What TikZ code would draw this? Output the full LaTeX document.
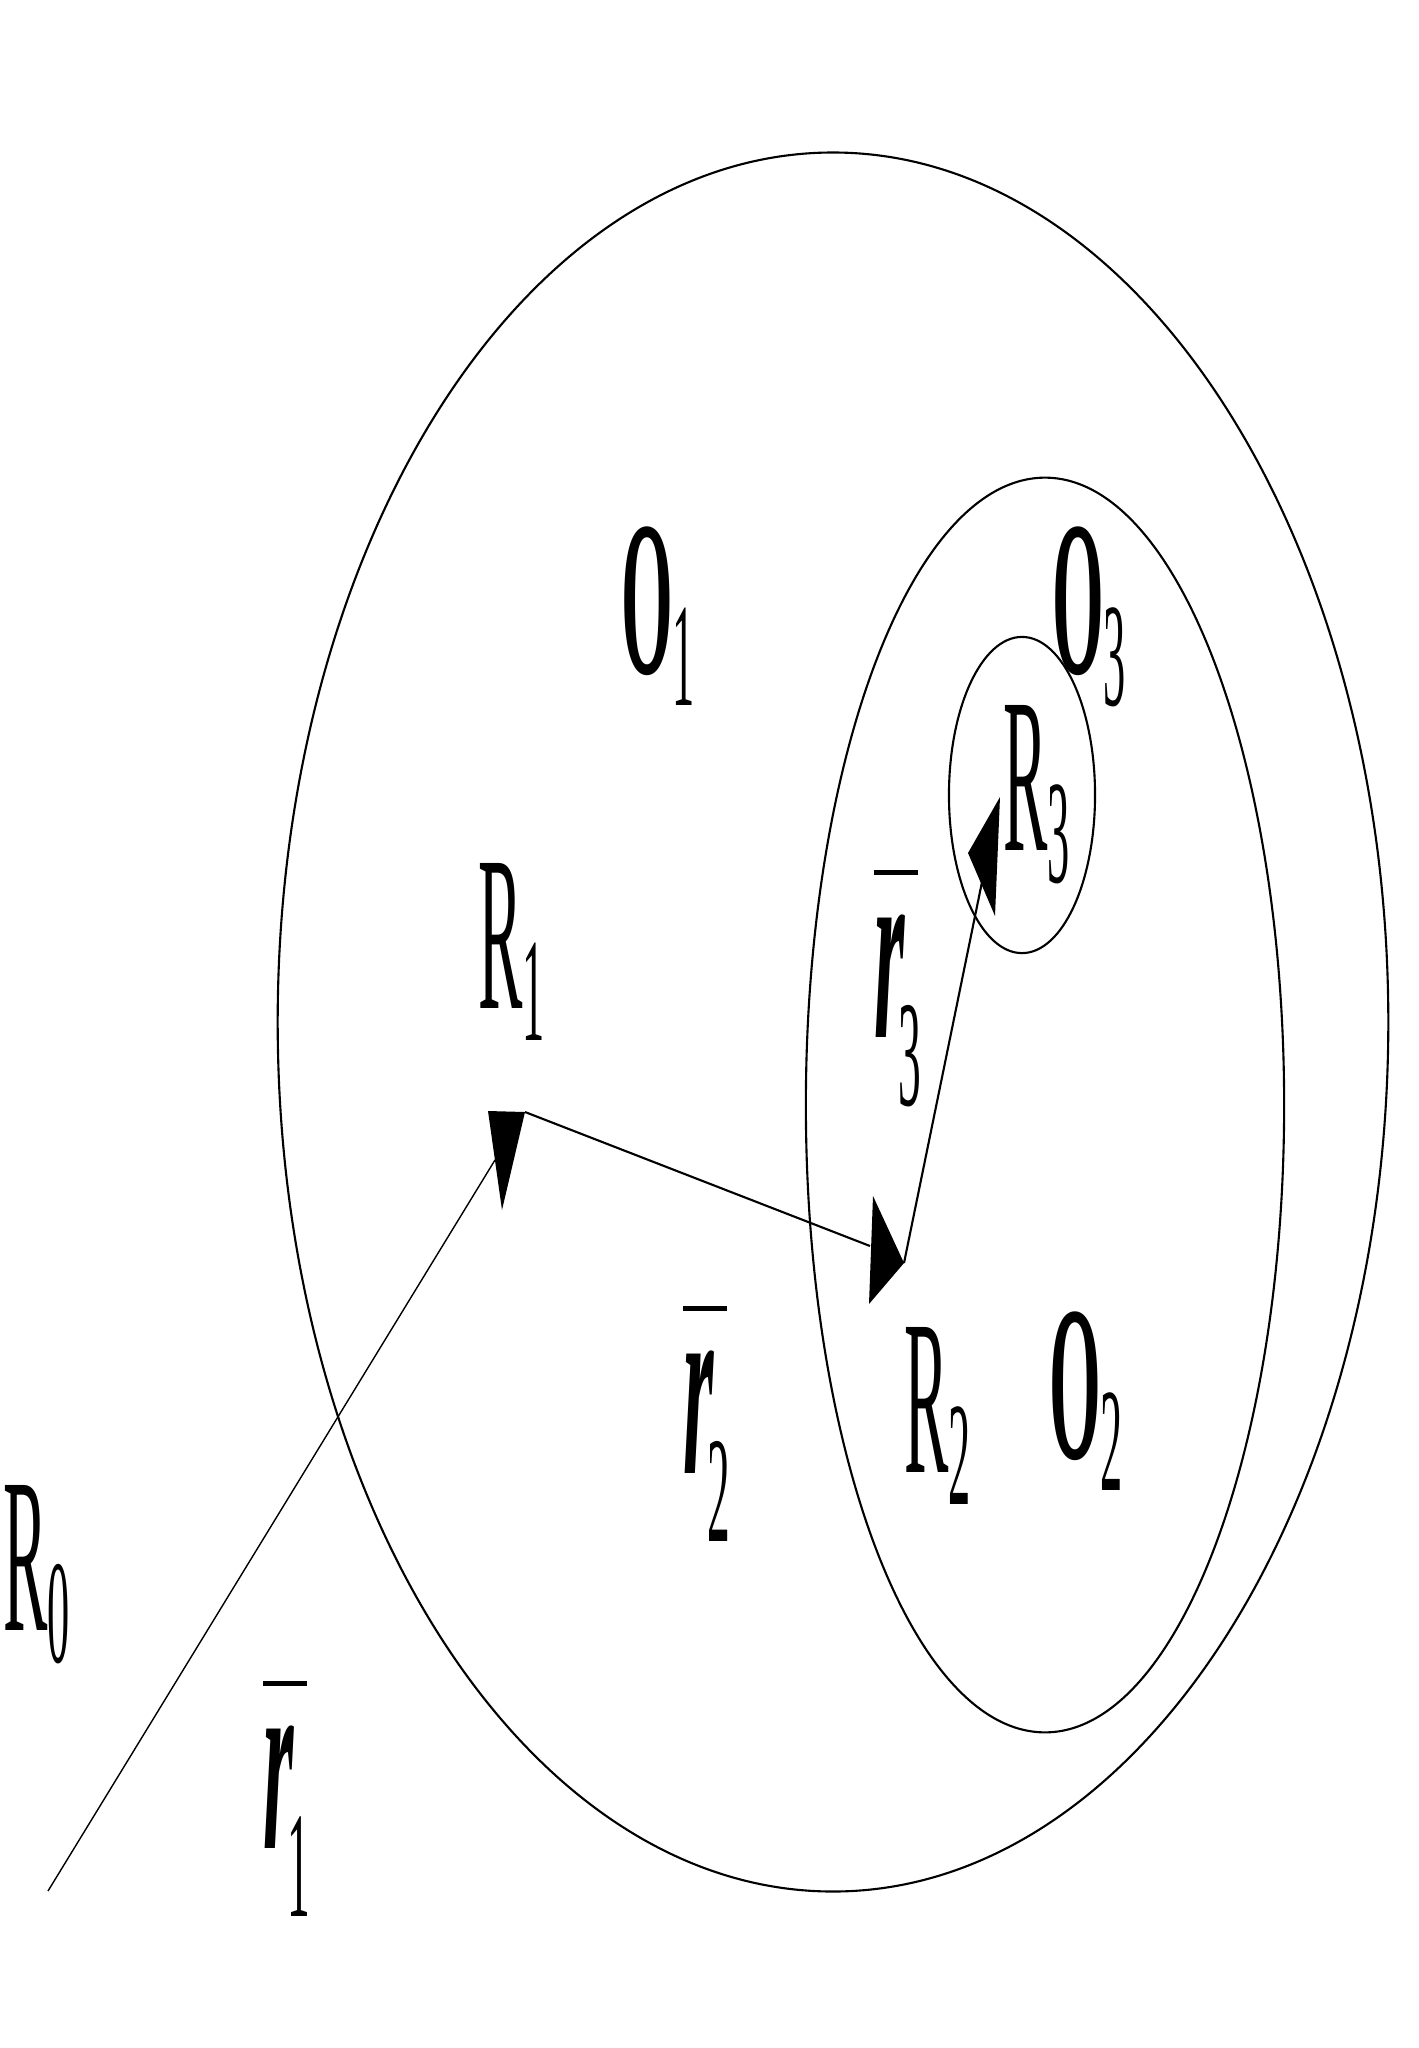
\documentclass[tikz,border=0pt]{standalone}
\usepackage{graphicx}
\usepackage{fontspec}
\setmainfont{Liberation Serif}

% 窄体标签: 字母 + 下标
\newcommand{\lbl}[2]{\scalebox{0.3}[1]{\fontsize{63}{63}\selectfont #1\raisebox{-0.32cm}{\fontsize{42}{42}\selectfont #2}}}
% 带横线的 r
\newcommand{\vlbl}[1]{\scalebox{0.3}[1]{\fontsize{74}{74}\selectfont\rlap{\rule[1.62cm]{1.47cm}{0.045cm}}\textit{\bfseries r}\kern-0.22cm\raisebox{-0.68cm}{\fontsize{43}{43}\selectfont #1}}}

\begin{document}
\begin{tikzpicture}[x=0.01cm, y=-0.01cm, line width=0.6pt,
    every node/.style={inner sep=0pt, anchor=base west}]
  \useasboundingbox (0,0) rectangle (1419,2048);

  % 区域
  \draw (833,1022) ellipse [x radius=5.55cm, y radius=8.69cm];
  \draw (1045,1105) ellipse [x radius=2.39cm, y radius=6.27cm];
  \draw (1022,795) ellipse [x radius=0.73cm, y radius=1.58cm];

  % 点
  \coordinate (p0) at (48,1891);
  \coordinate (p1) at (525,1112);
  \coordinate (p2) at (904,1263);
  \coordinate (p3) at (1000,797);

  % 矢量 r1, r2, r3
  \draw[line width=0.4pt] (p0) -- (495,1160);
  \fill (p1) -- (488,1111) -- (502,1210) -- cycle;
  \draw (p1) -- (870,1246);
  \fill (p2) -- (873,1196) -- (869,1304) -- cycle;
  \draw (p2) -- (982,882);
  \fill (p3) -- (968,853) -- (995,916) -- cycle;

  % 标签
  \node (o1) at (620,673) {\lbl{{\bfseries O}}{1}};
  \node (o3) at (1051,673) {\lbl{{\bfseries O}}{3}};
  \node (o2) at (1048,1458) {\lbl{{\bfseries O}}{2}};
  \node (r0) at (2,1630) {\lbl{R}{0}};
  \node (rr1) at (477,1008) {\lbl{R}{1}};
  \node (rr2) at (903,1472) {\lbl{R}{2}};
  \node (rr3) at (1002,850) {\lbl{R}{3}};
  \node (v1) at (262,1848) {\vlbl{1}};
  \node (v2) at (682,1473) {\vlbl{2}};
  \node (v3) at (873,1037) {\vlbl{3}};
\end{tikzpicture}
\end{document}
